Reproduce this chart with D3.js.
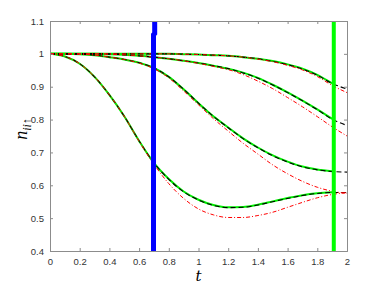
<!DOCTYPE html>
<html>
<head>
<meta charset="utf-8">
<script src="https://cdn.jsdelivr.net/npm/d3@7"></script>
<style>
  body { margin: 0; background: #fff; }
  svg { display: block; }
  .tick text { font-family: "Liberation Sans", Arial, sans-serif; font-size: 9.5px; fill: #333; }
</style>
</head>
<body>
<div id="chart"></div>
<script>
// time grid (shared by all curves)
var tGrid = [0, 0.1, 0.2, 0.3, 0.4, 0.5, 0.6, 0.7, 0.8, 0.9, 1.0,
             1.1, 1.2, 1.3, 1.4, 1.5, 1.6, 1.7, 1.8, 1.9, 2.0];

// exact (black dashed)
var exact1 = [1, 1, 1, 1, 1, 1, 1, 1, 1, 0.999, 0.998, 0.996, 0.994, 0.99, 0.985, 0.977, 0.967, 0.954, 0.935, 0.91, 0.893];
var exact2 = [1, 1, 1, 1, 0.999, 0.997, 0.994, 0.99, 0.985, 0.979, 0.972, 0.964, 0.955, 0.942, 0.926, 0.905, 0.882, 0.857, 0.83, 0.801, 0.782];
var exact3 = [1, 1, 0.999, 0.996, 0.99, 0.983, 0.973, 0.957, 0.93, 0.892, 0.85, 0.81, 0.775, 0.742, 0.714, 0.69, 0.671, 0.656, 0.647, 0.642, 0.64];
var exact4 = [1, 0.992, 0.97, 0.93, 0.875, 0.81, 0.735, 0.668, 0.618, 0.58, 0.555, 0.539, 0.532, 0.533, 0.54, 0.55, 0.56, 0.569, 0.575, 0.578, 0.578];

// green approximation (stops near t = 1.9)
var green1 = [1, 1, 1, 1, 1, 1, 1, 1, 1, 0.999, 0.998, 0.996, 0.994, 0.99, 0.985, 0.978, 0.968, 0.955, 0.936, 0.91];
var green2 = [1, 1, 1, 1, 0.999, 0.997, 0.994, 0.99, 0.985, 0.979, 0.972, 0.964, 0.955, 0.943, 0.927, 0.906, 0.883, 0.858, 0.831, 0.802];
var green3 = [1, 1, 0.999, 0.996, 0.99, 0.983, 0.973, 0.957, 0.93, 0.892, 0.85, 0.81, 0.776, 0.743, 0.715, 0.691, 0.672, 0.657, 0.648, 0.643];
var green4 = [1, 0.992, 0.97, 0.93, 0.875, 0.81, 0.735, 0.668, 0.619, 0.581, 0.556, 0.54, 0.533, 0.534, 0.541, 0.551, 0.561, 0.57, 0.576, 0.579];

// red dash-dot approximation
var red1 = [1, 1, 1, 1, 1, 1, 1, 1, 1, 0.999, 0.998, 0.996, 0.994, 0.99, 0.984, 0.976, 0.965, 0.951, 0.931, 0.904, 0.882];
var red2 = [1, 1, 1, 1, 0.999, 0.997, 0.994, 0.99, 0.985, 0.979, 0.971, 0.962, 0.952, 0.937, 0.917, 0.894, 0.867, 0.839, 0.809, 0.778, 0.75];
var red3 = [1, 1, 0.999, 0.996, 0.99, 0.983, 0.972, 0.955, 0.927, 0.887, 0.845, 0.803, 0.765, 0.728, 0.695, 0.662, 0.635, 0.612, 0.594, 0.582, 0.575];
var red4 = [1, 0.992, 0.97, 0.93, 0.875, 0.81, 0.734, 0.664, 0.605, 0.56, 0.528, 0.51, 0.502, 0.502, 0.508, 0.518, 0.533, 0.548, 0.562, 0.572, 0.578];

// vertical markers
var blueT = [0.697, 0.697, 0.705, 0.705];
var blueV = [0.4, 1.058, 1.062, 1.1];
var greenLineT = [1.911, 1.911];
var greenLineV = [0.4, 1.1];

var xTicks = [0, 0.2, 0.4, 0.6, 0.8, 1, 1.2, 1.4, 1.6, 1.8, 2];
var yTicks = [0.4, 0.5, 0.6, 0.7, 0.8, 0.9, 1, 1.1];

var svgWidth = 384;
var svgHeight = 288;
var margin = { top: 21, bottom: 37, left: 50, right: 37 };
var chartWidth = svgWidth - margin.left - margin.right;
var chartHeight = svgHeight - margin.top - margin.bottom;

var svg = d3.select("#chart").append("svg")
  .attr("width", svgWidth)
  .attr("height", svgHeight);

var chartGroup = svg.append("g")
  .attr("transform", `translate(${margin.left}, ${margin.top})`);

var x = d3.scaleLinear().domain([0, 2]).range([0, chartWidth]);
var y = d3.scaleLinear().domain([0.4, 1.1]).range([chartHeight, 0]);

// clip to the axes box
svg.append("defs").append("clipPath").attr("id", "clip")
  .append("rect").attr("width", chartWidth).attr("height", chartHeight);

var plot = chartGroup.append("g").attr("clip-path", "url(#clip)");

var line = d3.line()
  .x(d => x(d[0]))
  .y(d => y(d[1]))
  .curve(d3.curveMonotoneX);

function pairs(ts, vs) {
  return vs.map((v, i) => [ts[i], v]);
}

// green first, then black dashed, then red dash-dot on top
[green1, green2, green3, green4].forEach(function(s) {
  plot.append("path")
    .attr("d", line(pairs(tGrid, s)))
    .attr("fill", "none")
    .attr("stroke", "#00ee00")
    .attr("stroke-width", 2);
});

[exact1, exact2, exact3, exact4].forEach(function(s) {
  plot.append("path")
    .attr("d", line(pairs(tGrid, s)))
    .attr("fill", "none")
    .attr("stroke", "#000")
    .attr("stroke-width", 1.1)
    .attr("stroke-dasharray", "5,3");
});

[red1, red2, red3, red4].forEach(function(s) {
  plot.append("path")
    .attr("d", line(pairs(tGrid, s)))
    .attr("fill", "none")
    .attr("stroke", "#ff0000")
    .attr("stroke-width", 1)
    .attr("stroke-dasharray", "4,2,1,2");
});

// vertical markers
var straight = d3.line().x(d => x(d[0])).y(d => y(d[1]));

plot.append("path")
  .attr("d", straight(pairs(blueT, blueV)))
  .attr("fill", "none")
  .attr("stroke", "#0000ff")
  .attr("stroke-width", 5);

plot.append("path")
  .attr("d", straight(pairs(greenLineT, greenLineV)))
  .attr("fill", "none")
  .attr("stroke", "#00ff00")
  .attr("stroke-width", 4);

// axes (MATLAB style, ticks inside, box on)
var axisColor = "#8c8c8c";
var xAxis = d3.axisBottom(x).tickValues(xTicks).tickSize(-3).tickPadding(7)
  .tickFormat(d3.format("~g"));
var yAxis = d3.axisLeft(y).tickValues(yTicks).tickSize(-3).tickPadding(6)
  .tickFormat(d3.format("~g"));

var gx = chartGroup.append("g")
  .attr("transform", `translate(0, ${chartHeight})`)
  .call(xAxis);
var gy = chartGroup.append("g").call(yAxis);
var gxTop = chartGroup.append("g")
  .call(d3.axisTop(x).tickValues(xTicks).tickSize(-3).tickFormat(""));
var gyRight = chartGroup.append("g")
  .attr("transform", `translate(${chartWidth}, 0)`)
  .call(d3.axisRight(y).tickValues(yTicks).tickSize(-3).tickFormat(""));

[gx, gy, gxTop, gyRight].forEach(function(g) {
  g.select(".domain").attr("stroke", axisColor).attr("stroke-width", 1);
  g.selectAll(".tick line").attr("stroke", axisColor);
});

// axis labels
svg.append("text")
  .attr("x", margin.left + chartWidth / 2)
  .attr("y", 281)
  .attr("text-anchor", "middle")
  .style("font-family", "'DejaVu Serif', 'Liberation Serif', serif")
  .style("font-style", "italic")
  .style("font-size", "15px")
  .text("t");

var ylab = svg.append("text")
  .attr("transform", "translate(27, 129) rotate(-90)")
  .attr("text-anchor", "middle")
  .style("font-family", "'Liberation Serif', 'DejaVu Serif', serif")
  .style("font-style", "italic")
  .style("font-size", "18px");
ylab.append("tspan").text("n");
ylab.append("tspan")
  .attr("dy", 4)
  .style("font-size", "12px")
  .text("ii\u2191");
</script>
</body>
</html>
